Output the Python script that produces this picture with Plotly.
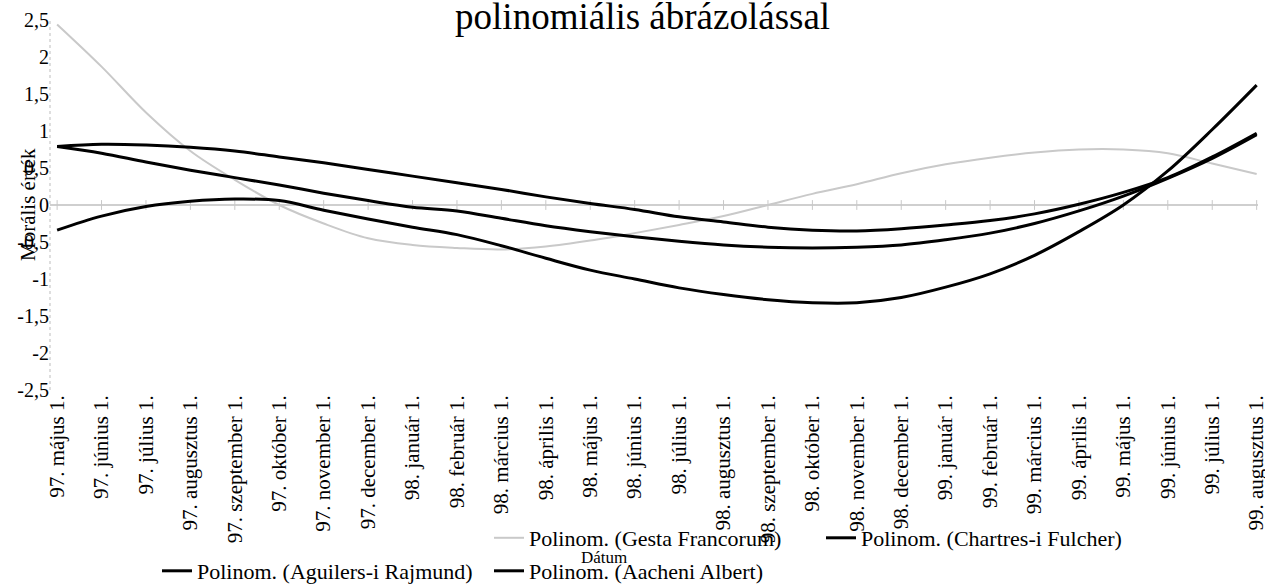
import plotly.graph_objects as go

categories = [
    "97. május 1.", "97. június 1.", "97. július 1.", "97. augusztus 1.",
    "97. szeptember 1.", "97. október 1.", "97. november 1.", "97. december 1.",
    "98. január 1.", "98. február 1.", "98. március 1.", "98. április 1.",
    "98. május 1.", "98. június 1.", "98. július 1.", "98. augusztus 1.",
    "98. szeptember 1.", "98. október 1.", "98. november 1.", "98. december 1.",
    "99. január 1.", "99. február 1.", "99. március 1.", "99. április 1.",
    "99. május 1.", "99. június 1.", "99. július 1.", "99. augusztus 1.",
]

gesta_francorum = [2.44, 1.87, 1.25, 0.73, 0.34, 0.00, -0.25, -0.45, -0.54, -0.58,
                   -0.60, -0.56, -0.48, -0.38, -0.27, -0.15, 0.00, 0.15, 0.28, 0.43,
                   0.55, 0.64, 0.71, 0.75, 0.75, 0.70, 0.56, 0.42]
chartres_fulcher = [0.79, 0.82, 0.81, 0.78, 0.73, 0.65, 0.57, 0.48, 0.39, 0.30,
                    0.21, 0.11, 0.02, -0.06, -0.16, -0.23, -0.30, -0.34, -0.35, -0.32,
                    -0.27, -0.21, -0.12, 0.01, 0.17, 0.37, 0.65, 0.97]
aguilers_rajmund = [0.79, 0.70, 0.58, 0.47, 0.37, 0.27, 0.16, 0.06, -0.03, -0.08,
                    -0.18, -0.28, -0.36, -0.43, -0.49, -0.54, -0.57, -0.58, -0.57, -0.54,
                    -0.47, -0.38, -0.25, -0.08, 0.12, 0.36, 0.63, 0.95]
aacheni_albert = [-0.34, -0.15, -0.02, 0.05, 0.08, 0.06, -0.07, -0.19, -0.30, -0.40,
                  -0.55, -0.72, -0.88, -1.00, -1.12, -1.21, -1.28, -1.32, -1.32, -1.25,
                  -1.11, -0.93, -0.68, -0.36, 0.00, 0.46, 1.02, 1.62]

series_names = ["Polinom. (Gesta Francorum)", "Polinom. (Chartres-i Fulcher)",
                "Polinom. (Aguilers-i Rajmund)", "Polinom. (Aacheni Albert)"]

y_tick_values = [2.5, 2, 1.5, 1, 0.5, 0, -0.5, -1, -1.5, -2, -2.5]
y_tick_labels = ["2,5", "2", "1,5", "1", "0,5", "0", "-0,5", "-1", "-1,5", "-2", "-2,5"]

title_text = "polinomiális ábrázolással"
y_title = "Morális érték"
x_title = "Dátum"

FONT = "Liberation Serif"

fig = go.Figure()

# small tick marks along the zero line (one per category)
fig.add_trace(go.Scatter(
    x=categories, y=[0] * len(categories), mode="markers",
    marker=dict(symbol="line-ns", size=7, line=dict(width=1, color="#c8c8c8")),
    showlegend=False, hoverinfo="skip"))

fig.add_trace(go.Scatter(x=categories, y=gesta_francorum, name=series_names[0],
                         mode="lines", line=dict(color="#c9c9c9", width=2, shape="spline"),
                         legend="legend"))
fig.add_trace(go.Scatter(x=categories, y=chartres_fulcher, name=series_names[1],
                         mode="lines", line=dict(color="#000000", width=3, shape="spline"),
                         legend="legend"))
fig.add_trace(go.Scatter(x=categories, y=aguilers_rajmund, name=series_names[2],
                         mode="lines", line=dict(color="#000000", width=3, shape="spline"),
                         legend="legend2"))
fig.add_trace(go.Scatter(x=categories, y=aacheni_albert, name=series_names[3],
                         mode="lines", line=dict(color="#000000", width=3, shape="spline"),
                         legend="legend2"))

legend_common = dict(orientation="h", xref="container", yref="container",
                     xanchor="left", yanchor="middle",
                     font=dict(family=FONT, size=22, color="black"),
                     bgcolor="rgba(0,0,0,0)", entrywidthmode="pixels", entrywidth=287,
                     itemwidth=30, tracegroupgap=0)

fig.update_layout(
    width=1265, height=587,
    margin=dict(l=50, r=7, t=20, b=197, autoexpand=False),
    paper_bgcolor="white", plot_bgcolor="white",
    separators=", ",
    font=dict(family=FONT, color="black"),
    title=dict(text=title_text, x=0.508, xanchor="center", xref="container",
               y=1 - 16 / 587, yanchor="middle", yref="container",
               font=dict(family=FONT, size=37, color="black")),
    legend=dict(legend_common, x=489 / 1265, y=1 - 538 / 587),
    legend2=dict(legend_common, x=157 / 1265, y=1 - 571 / 587),
    xaxis=dict(type="category", range=[-0.16, 27.03], showgrid=False, zeroline=False,
               showline=False, ticks="", tickangle=-90, automargin=False,
               tickfont=dict(family=FONT, size=21, color="black")),
    yaxis=dict(range=[-2.5, 2.5], tickvals=y_tick_values, ticktext=y_tick_labels,
               showgrid=False, zeroline=True, zerolinecolor="#cfcfcf", zerolinewidth=1.5,
               showline=False, ticks="", automargin=False,
               tickfont=dict(family=FONT, size=20, color="black")),
    shapes=[dict(type="line", xref="paper", yref="paper", x0=0, x1=0, y0=0, y1=1,
                 line=dict(color="#bdbdbd", width=1, dash="dot"), layer="below")],
    annotations=[
        dict(text=y_title, textangle=-90, xref="paper", yref="paper", x=0, y=0.5,
             xshift=-22, xanchor="center", yanchor="middle", showarrow=False,
             font=dict(family=FONT, size=21, color="black")),
        dict(text=x_title, xref="paper", yref="paper", x=(604 - 50) / 1208,
             y=-(557 - 390) / 370, xanchor="center", yanchor="middle", showarrow=False,
             font=dict(family=FONT, size=17, color="black")),
    ],
)

fig.write_html("out.html", config={"displayModeBar": False},
               post_script="document.body.style.margin='0';")
